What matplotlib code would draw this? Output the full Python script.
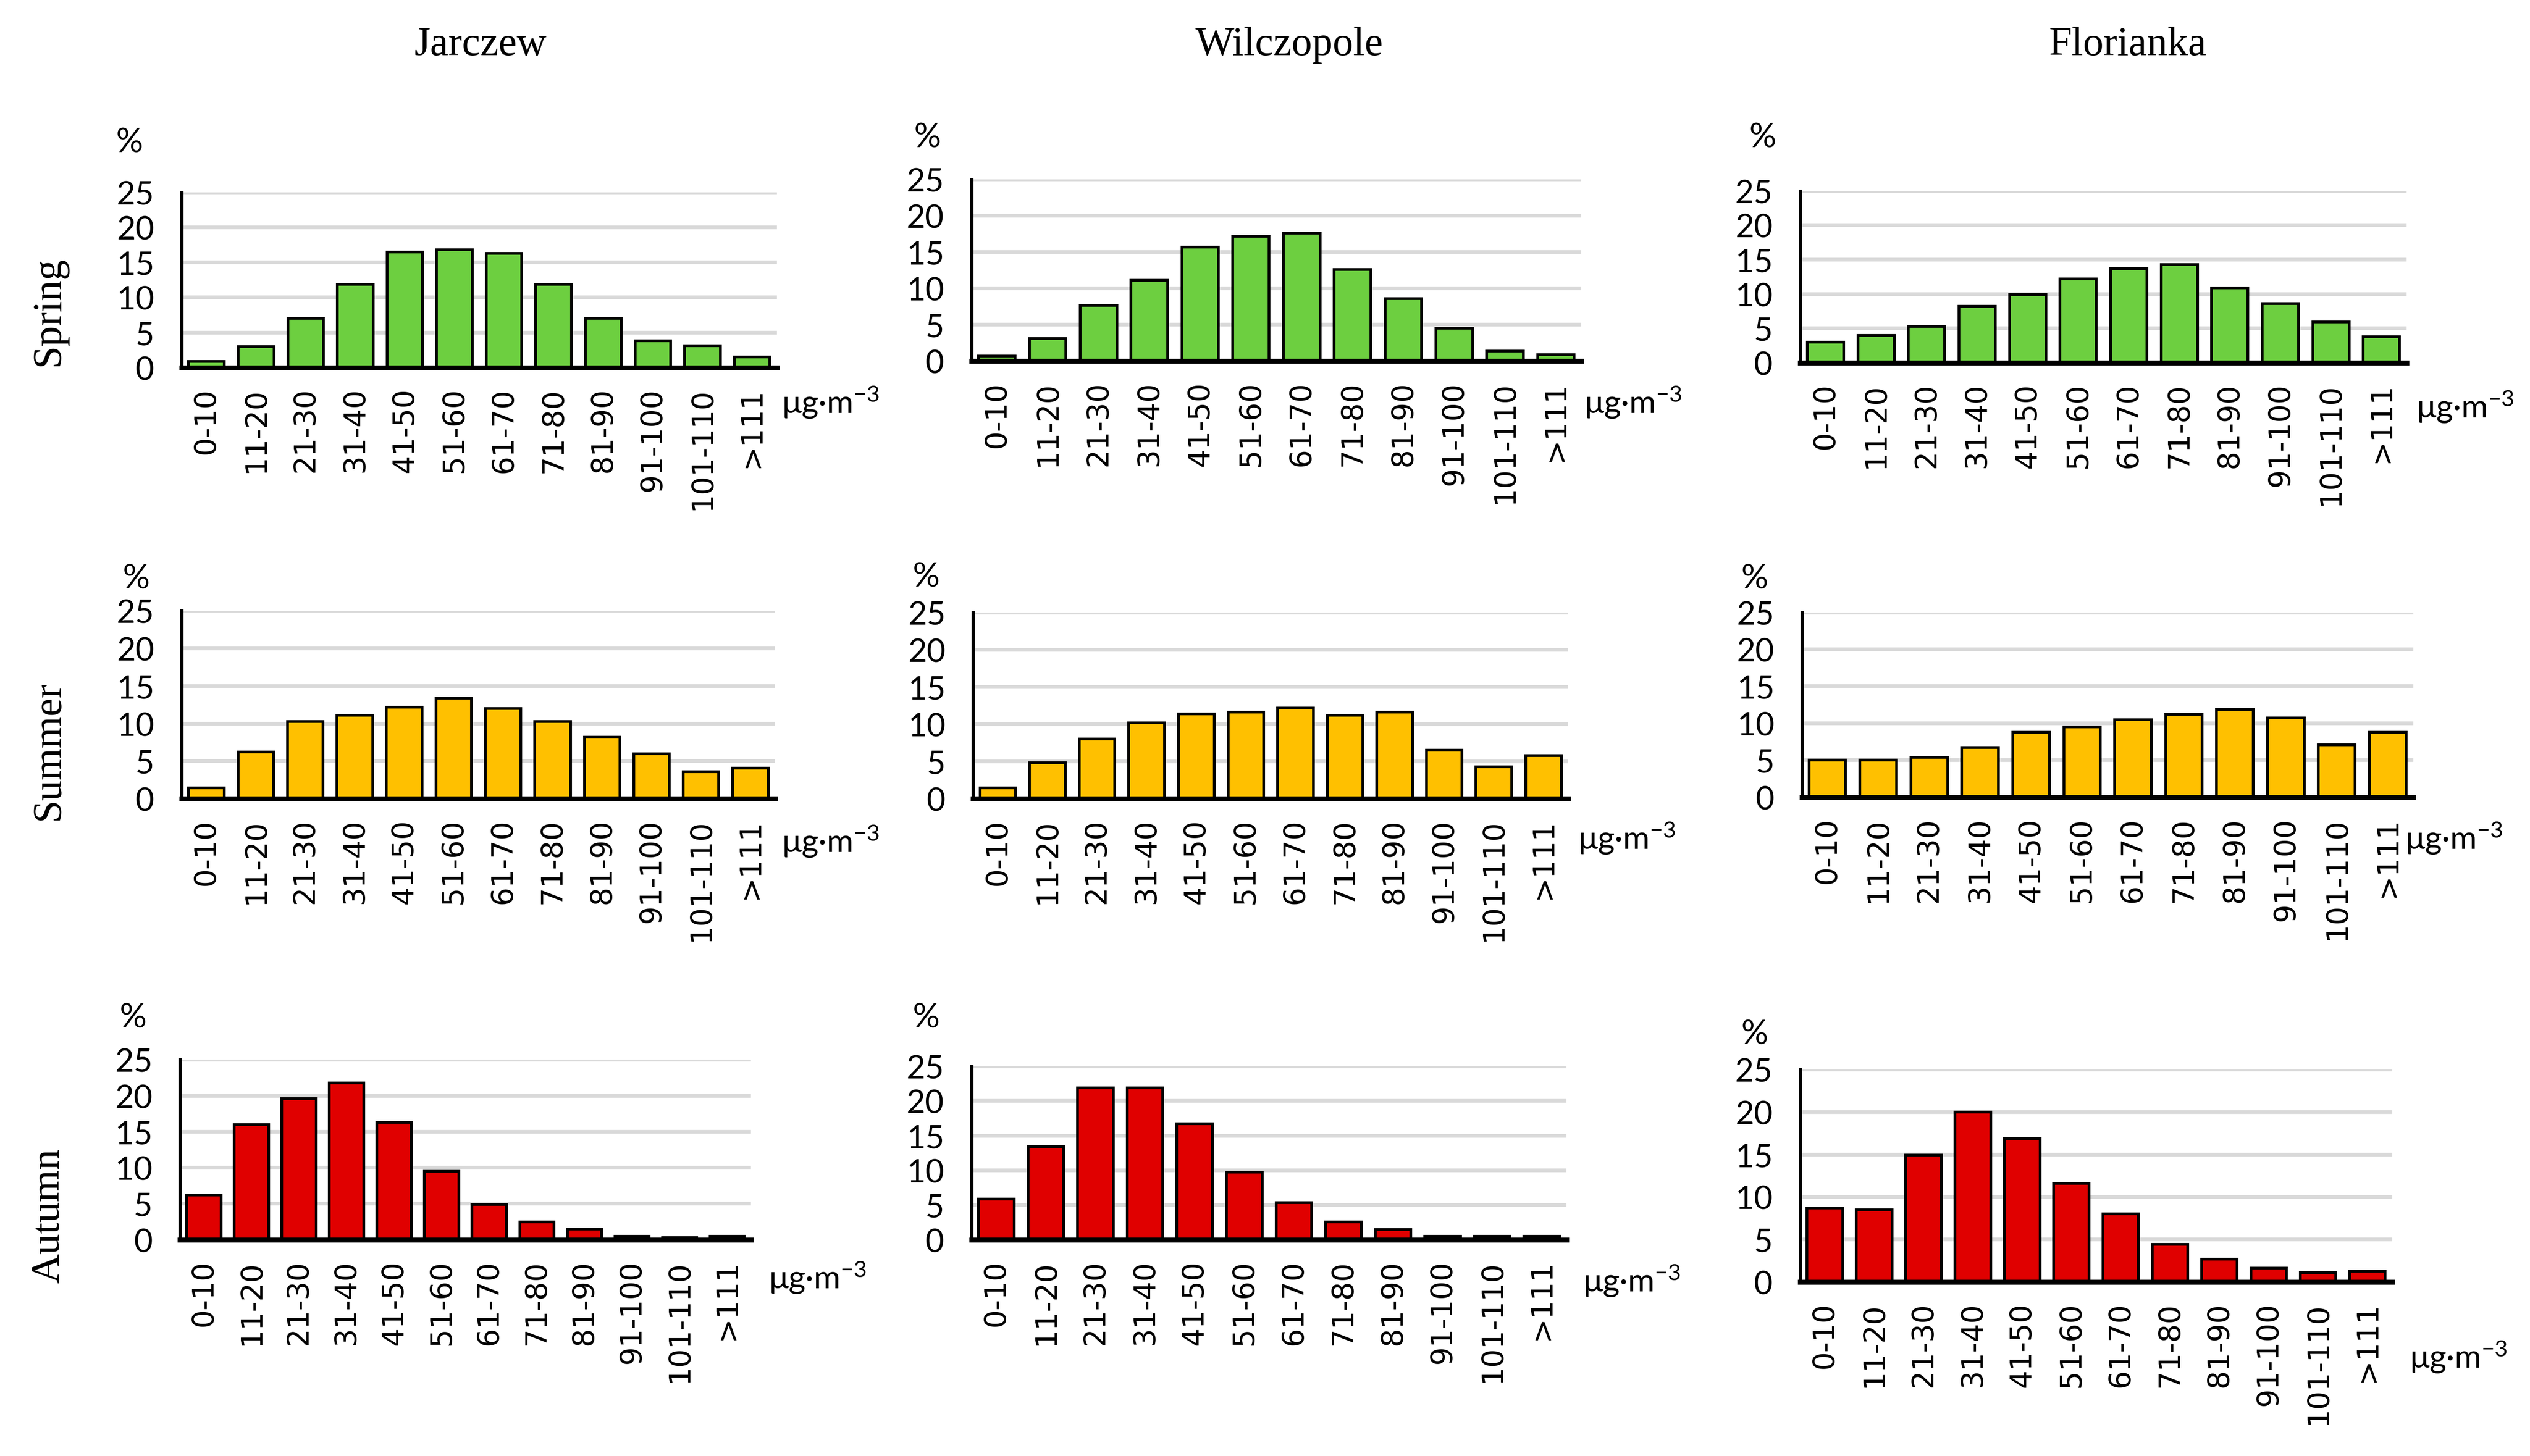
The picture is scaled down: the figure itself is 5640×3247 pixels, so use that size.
import matplotlib
matplotlib.use("Agg")
import matplotlib.pyplot as plt

bins = ["0-10", "11-20", "21-30", "31-40", "41-50", "51-60", "61-70",
        "71-80", "81-90", "91-100", "101-110", ">111"]
sites = ["Jarczew", "Wilczopole", "Florianka"]
seasons = ["Spring", "Summer", "Autumn"]

# percentages
jarczew_spring = [0.9, 3.0, 7.0, 11.9, 16.5, 16.8, 16.3, 11.9, 7.0, 3.8, 3.1, 1.5]
wilczopole_spring = [0.7, 3.1, 7.7, 11.1, 15.7, 17.2, 17.6, 12.6, 8.6, 4.5, 1.4, 0.9]
florianka_spring = [3.0, 4.0, 5.3, 8.2, 9.9, 12.2, 13.7, 14.3, 10.9, 8.6, 5.9, 3.8]

jarczew_summer = [1.45, 6.25, 10.3, 11.1, 12.2, 13.4, 12.0, 10.3, 8.2, 6.0, 3.6, 4.1]
wilczopole_summer = [1.45, 4.85, 8.0, 10.2, 11.4, 11.6, 12.15, 11.2, 11.6, 6.5, 4.3, 5.8]
florianka_summer = [5.0, 5.0, 5.4, 6.7, 8.8, 9.5, 10.5, 11.2, 11.9, 10.7, 7.1, 8.8]

jarczew_autumn = [6.2, 16.0, 19.6, 21.8, 16.3, 9.5, 4.9, 2.5, 1.5, 0.5, 0.3, 0.5]
wilczopole_autumn = [5.85, 13.4, 21.9, 21.9, 16.75, 9.75, 5.35, 2.55, 1.5, 0.5, 0.5, 0.5]
florianka_autumn = [8.7, 8.5, 14.9, 20.0, 16.9, 11.6, 8.0, 4.4, 2.7, 1.6, 1.1, 1.25]

values = [
    [jarczew_spring, wilczopole_spring, florianka_spring],
    [jarczew_summer, wilczopole_summer, florianka_summer],
    [jarczew_autumn, wilczopole_autumn, florianka_autumn],
]
season_colors = ["#6dcf40", "#ffc000", "#e00000"]

# layout measured on a 1560 x 898 view of the target
W, H = 1560.0, 898.4
boxes = [
    [(112, 479, 119, 227), (599, 975, 111, 223), (1110, 1484, 118, 224)],
    [(112, 478, 377, 493), (600, 967, 378, 493), (1111, 1488, 378, 492)],
    [(111, 463, 654, 765), (599, 966, 658, 765), (1110, 1475, 660, 791)],
]
unit_pos = [
    [(482, 248), (977, 248), (1490, 251)],
    [(482, 519), (973, 517), (1483, 517)],
    [(474, 788), (976, 790), (1486, 837)],
]
pct_pos = [
    [(80, 88), (572, 85), (1087, 85)],
    [(84, 357), (571, 356), (1082, 357)],
    [(82, 628), (571, 628), (1082, 638)],
]
title_x = [296, 795, 1312]
season_y = [192, 463, 750]

plt.rcParams["mathtext.fontset"] = "custom"
plt.rcParams["mathtext.rm"] = "Lato"
plt.rcParams["mathtext.it"] = "Lato:italic"

fig = plt.figure(figsize=(28.2, 16.24), dpi=200)

for r in range(3):
    for c in range(3):
        l, rr, t, b = boxes[r][c]
        ax = fig.add_axes([l / W, 1 - b / H, (rr - l) / W, (b - t) / H])
        ax.bar(range(len(bins)), values[r][c], width=0.72,
               color=season_colors[r], edgecolor="black", linewidth=2.2, zorder=3)
        ax.set_xlim(-0.5, len(bins) - 0.5)
        ax.set_ylim(0, 25)
        ax.set_yticks([0, 5, 10, 15, 20, 25])
        ax.yaxis.grid(True, color="#d9d9d9", linewidth=3, zorder=0)
        ax.set_axisbelow(True)
        ax.set_xticks(range(len(bins)))
        ax.set_xticklabels(bins, rotation=90, family="DejaVu Sans", fontsize=23.5)
        for lab in ax.get_yticklabels():
            lab.set_family("Lato")
            lab.set_fontsize(26)
        ax.tick_params(axis="both", length=0)
        ax.tick_params(axis="y", pad=22)
        ax.tick_params(axis="x", pad=16)
        for s in ["top", "right"]:
            ax.spines[s].set_visible(False)
        ax.spines["left"].set_linewidth(2.6)
        ax.spines["bottom"].set_linewidth(4)
        ax.spines["bottom"].set_zorder(4)
        # % label above the y axis
        px, py = pct_pos[r][c]
        fig.text(px / W, 1 - py / H, "%", family="Lato",
                 fontsize=27, ha="center", va="center")
        ux, uy = unit_pos[r][c]
        fig.text(ux / W, 1 - uy / H, "μg·m$^{-3}$", family="Lato",
                 fontsize=26, ha="left", va="center")

for c, name in enumerate(sites):
    fig.text(title_x[c] / W, 1 - 28 / H, name, family="Liberation Serif",
             fontsize=33, ha="center", va="center")

for r, name in enumerate(seasons):
    fig.text(30 / W, 1 - season_y[r] / H, name, family="Liberation Serif",
             fontsize=33, ha="center", va="center", rotation=90)

fig.savefig("out.png", dpi=200, facecolor="white")
